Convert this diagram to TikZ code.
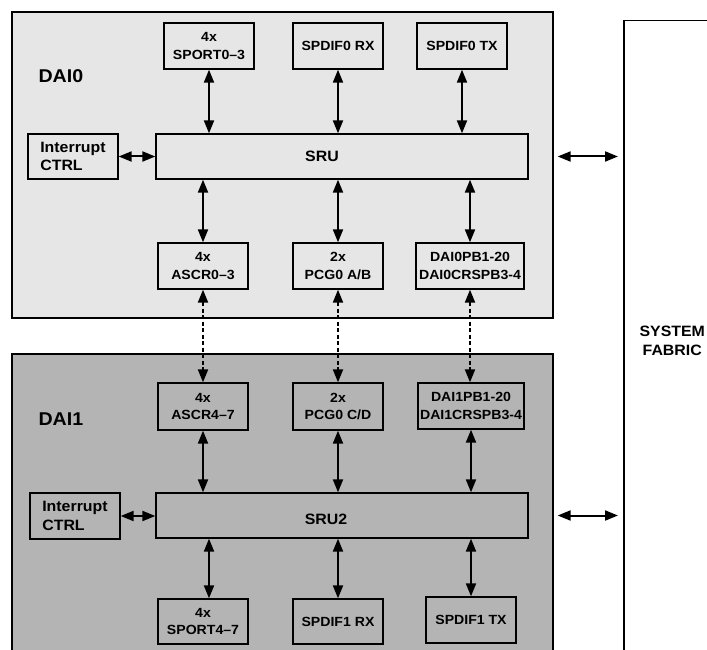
\documentclass[tikz,border=0pt]{standalone}
\usepackage{fontspec}
\setmainfont{Liberation Sans}[FakeStretch=1.06]
\usetikzlibrary{arrows.meta}
\definecolor{daizero}{gray}{0.902}
\definecolor{daione}{gray}{0.706}
\newcommand{\blkfont}{\bfseries\fontsize{13.3}{17.5}\selectfont}
\newcommand{\srufont}{\bfseries\fontsize{15}{18.4}\selectfont}
\newcommand{\daifont}{\bfseries\fontsize{18.5}{20}\selectfont}

\begin{document}
\begin{tikzpicture}[
    x=1pt, y=-1pt,
    every node/.style={font=\blkfont, align=center},
    blk/.style={draw, line width=1.3pt, minimum width=90pt, minimum height=46pt, inner sep=1pt},
    ctrl/.style={blk, align=left, font=\srufont, minimum width=90pt, minimum height=45pt},
    sru/.style={blk, minimum width=372pt, minimum height=45pt},
    bigbox/.style={draw, line width=1.7pt},
    bidir/.style={{Triangle[length=13pt,width=10pt]}-{Triangle[length=13pt,width=10pt]}, line width=2pt},
    dlink/.style={bidir, dash pattern=on 4pt off 2.5pt},
    title/.style={font=\daifont, anchor=west}
]
\useasboundingbox (0,0) rectangle (707,650);
\clip (0,0) rectangle (707,650);

% Blocs DAI0 / DAI1
\draw[bigbox, fill=daizero] (12,12) rectangle (553,318);
\draw[bigbox, fill=daione] (12,354) rectangle (553,670);
\node[title] (dai0) at (35,76) {DAI0};
\node[title] (dai1) at (35,419) {DAI1};
\node[draw, line width=1.5pt, anchor=north west, minimum width=97pt, minimum height=640pt,
      font=\srufont] (fabric) at (623,20) {SYSTEM\\FABRIC};

% DAI0
\node[blk] (sport0) at (209,46) {4x\\SPORT0--3};
\node[blk] (spdifrx0) at (338,46) {SPDIF0 RX};
\node[blk] (spdiftx0) at (462,46) {SPDIF0 TX};
\node[sru, label={[xshift=-20pt, font=\srufont]center:SRU}] (sru) at (342,156.5) {};
\node[ctrl] (int0) at (73,156.5) {Interrupt\\CTRL};
\node[blk] (ascr0) at (203,266) {4x\\ASCR0--3};
\node[blk] (pcg0) at (338,266) {2x\\PCG0 A/B};
\node[blk, minimum width=108pt] (dai0pb) at (470,266) {DAI0PB1-20\\DAI0CRSPB3-4};

% DAI1
\node[blk, minimum height=47pt] (ascr1) at (203,406.5) {4x\\ASCR4--7};
\node[blk, minimum height=47pt] (pcg1) at (338,406.5) {2x\\PCG0 C/D};
\node[blk, minimum width=106pt] (dai1pb) at (471,406) {DAI1PB1-20\\DAI1CRSPB3-4};
\node[sru, label={[xshift=-16pt, yshift=-4pt, font=\srufont]center:SRU2}] (sru2) at (342,515.5) {};
\node[ctrl, minimum height=46pt] (int1) at (75,516) {Interrupt\\CTRL};
\node[blk, minimum height=45pt] (sport1) at (203,621.5) {4x\\SPORT4--7};
\node[blk, minimum height=45pt] (spdifrx1) at (338,621.5) {SPDIF1 RX};
\node[blk] (spdiftx1) at (471,620) {SPDIF1 TX};

% Liaisons DAI0
\draw[bidir] (sport0.south) -- (sport0.south |- sru.north);
\draw[bidir] (spdifrx0.south) -- (spdifrx0.south |- sru.north);
\draw[bidir] (spdiftx0.south) -- (spdiftx0.south |- sru.north);
\draw[bidir] (int0.east) -- (int0.east -| sru.west);
\draw[bidir] (ascr0.north |- sru.south) -- (ascr0.north);
\draw[bidir] (pcg0.north |- sru.south) -- (pcg0.north);
\draw[bidir] (dai0pb.north |- sru.south) -- (dai0pb.north);

% Liaisons DAI0 - DAI1
\draw[dlink] (ascr0.south) -- (ascr1.north);
\draw[dlink] (pcg0.south) -- (pcg1.north);
\draw[dlink] (dai0pb.south) -- (dai0pb.south |- dai1pb.north);

% Liaisons DAI1
\draw[bidir] (ascr1.south) -- (ascr1.south |- sru2.north);
\draw[bidir] (pcg1.south) -- (pcg1.south |- sru2.north);
\draw[bidir] (dai1pb.south) -- (dai1pb.south |- sru2.north);
\draw[bidir] (int1.east) -- (int1.east -| sru2.west);
\draw[bidir] ([xshift=6pt]sport1.north |- sru2.south) -- ([xshift=6pt]sport1.north);
\draw[bidir] (spdifrx1.north |- sru2.south) -- (spdifrx1.north);
\draw[bidir] (spdiftx1.north |- sru2.south) -- (spdiftx1.north);

% Vers le system fabric
\draw[bidir, shorten <=29pt, shorten >=5pt] (sru.east) -- (sru.east -| fabric.west);
\draw[bidir, shorten <=29pt, shorten >=5pt] (sru2.east) -- (sru2.east -| fabric.west);
\end{tikzpicture}
\end{document}
